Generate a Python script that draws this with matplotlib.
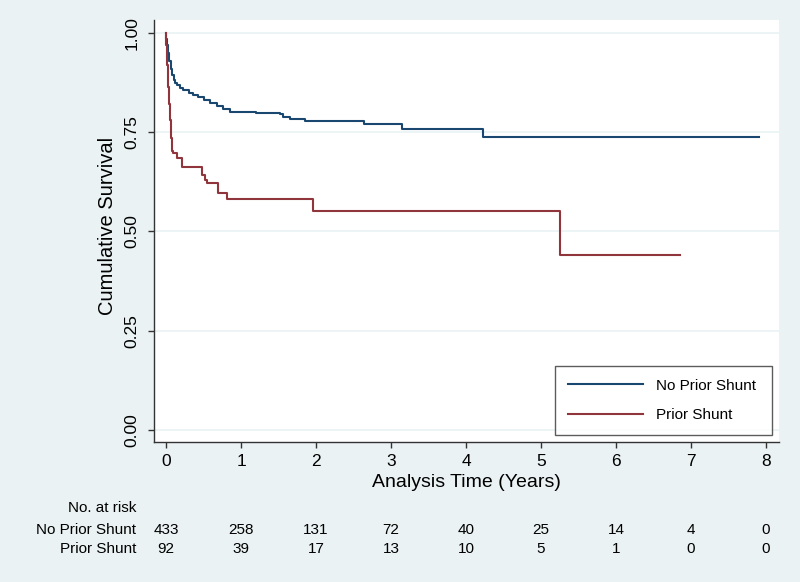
import matplotlib
matplotlib.use("Agg")
import matplotlib.pyplot as plt
from matplotlib.transforms import blended_transform_factory

plt.rcParams["font.family"] = ["Liberation Sans", "DejaVu Sans"]

# Kaplan-Meier step values (time in years, survival)
t_noprior = [0, 0.005, 0.01, 0.02, 0.03, 0.045, 0.06, 0.076, 0.1, 0.12, 0.14, 0.18,
             0.23, 0.3, 0.36, 0.43, 0.5, 0.58, 0.68, 0.76, 0.85, 1.2, 1.52, 1.56,
             1.65, 1.85, 2.64, 3.15, 4.22, 7.9]
s_noprior = [1.0, 0.985, 0.97, 0.957, 0.949, 0.93, 0.91, 0.895, 0.882, 0.874, 0.868, 0.862,
             0.856, 0.85, 0.844, 0.838, 0.831, 0.824, 0.816, 0.809, 0.802, 0.798, 0.796, 0.789,
             0.783, 0.779, 0.771, 0.758, 0.739, 0.739]

t_prior = [0, 0.005, 0.01, 0.015, 0.02, 0.025, 0.031, 0.037, 0.043, 0.048, 0.053, 0.06,
           0.068, 0.075, 0.085, 0.098, 0.14, 0.21, 0.475, 0.52, 0.54, 0.69, 0.81, 1.96,
           5.25, 6.85]
s_prior = [1.0, 0.97, 0.94, 0.92, 0.9, 0.88, 0.865, 0.84, 0.82, 0.8, 0.78, 0.76,
           0.735, 0.713, 0.704, 0.697, 0.684, 0.663, 0.642, 0.63, 0.621, 0.598, 0.583, 0.552,
           0.441, 0.441]

risk_times = [0, 1, 2, 3, 4, 5, 6, 7, 8]
risk_noprior = [433, 258, 131, 72, 40, 25, 14, 4, 0]
risk_prior = [92, 39, 17, 13, 10, 5, 1, 0, 0]

BG = "#eaf2f3"
BLUE = "#1a476f"
RED = "#90353b"

fig = plt.figure(figsize=(8, 5.82), dpi=100, facecolor=BG)
ax = fig.add_axes([153.5 / 800, 140 / 582, 625.5 / 800, 422 / 582])
ax.set_facecolor("white")

ax.step(t_noprior, s_noprior, where="post", color=BLUE, lw=1.5, label="No Prior Shunt")
ax.step(t_prior, s_prior, where="post", color=RED, lw=1.5, label="Prior Shunt")

ax.set_xlim(-0.1667, 8.173)
ax.set_ylim(-0.0302, 1.0327)
ax.set_xticks(range(9))
ax.set_yticks([0, 0.25, 0.5, 0.75, 1.0])
ax.set_yticklabels(["0.00", "0.25", "0.50", "0.75", "1.00"])
ax.grid(axis="y", color=BG, lw=1.2)
ax.set_axisbelow(True)

for s in ["top", "right"]:
    ax.spines[s].set_visible(False)
for s in ["left", "bottom"]:
    ax.spines[s].set_color("#333333")
    ax.spines[s].set_linewidth(1.0)
ax.tick_params(direction="out", length=4.5, width=1.0, color="#333333", labelsize=12.5)
ax.tick_params(axis="x", pad=4.5)
ax.tick_params(axis="y", pad=5.5, labelrotation=90)
for lbl in ax.get_yticklabels():
    lbl.set_va("center")

ax.set_xlabel("Analysis Time (Years)", fontsize=14)
ax.xaxis.set_label_coords(0.5, -0.076)
ax.set_ylabel("Cumulative Survival", fontsize=14.5)
ax.yaxis.set_label_coords(-0.058, 0.512)

leg = ax.legend(loc="lower left", bbox_to_anchor=(0.642, 0.0166, 0.347, 0.159), mode="expand",
                borderaxespad=0, fontsize=11, frameon=True, fancybox=False, edgecolor="#333333",
                handlelength=4.9, handletextpad=0.85, labelspacing=1.0, borderpad=0.85)
leg.get_frame().set_linewidth(1.0)

# number at risk table
tr = blended_transform_factory(ax.transData, fig.transFigure)
fig.text(136 / 800, 1 - 507.7 / 582, "No. at risk", ha="right", va="center", fontsize=11)
fig.text(136 / 800, 1 - 530 / 582, "No Prior Shunt", ha="right", va="center", fontsize=11)
fig.text(136 / 800, 1 - 548.7 / 582, "Prior Shunt", ha="right", va="center", fontsize=11)
for x, a, b in zip(risk_times, risk_noprior, risk_prior):
    ax.text(x, 1 - 530 / 582, str(a), transform=tr, ha="center", va="center", fontsize=11)
    ax.text(x, 1 - 548.7 / 582, str(b), transform=tr, ha="center", va="center", fontsize=11)

fig.savefig("out.png", dpi=100, facecolor=BG)
